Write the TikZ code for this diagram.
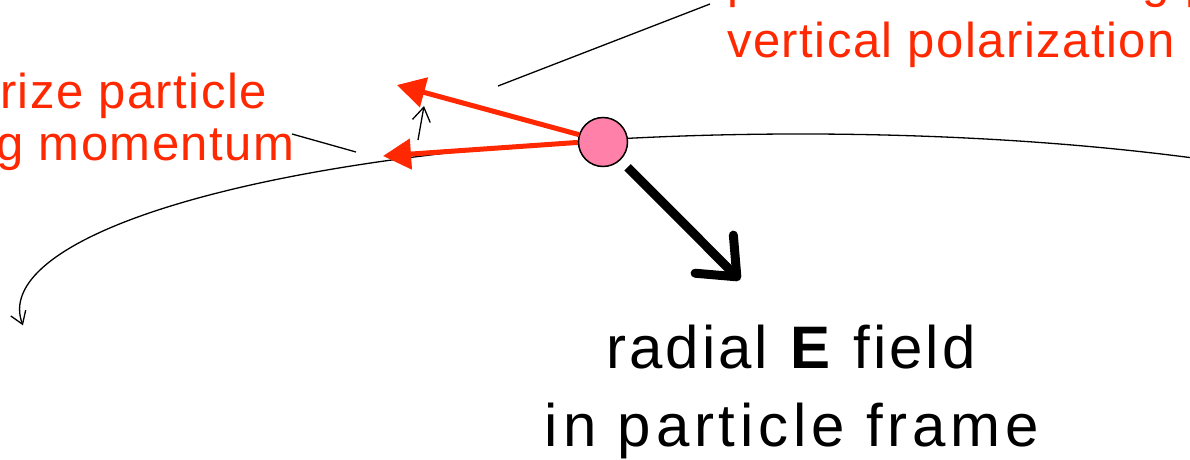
\documentclass[tikz,border=0pt]{standalone}
\usepackage{fontspec}
\setmainfont{Liberation Sans}
\newfontfamily\redfont[LetterSpace=3]{Liberation Sans}
\newfontfamily\blkfont[LetterSpace=5]{Liberation Sans}
\newfontfamily\blkwidefont[LetterSpace=8]{Liberation Sans}
\usetikzlibrary{arrows.meta}
\definecolor{redtxt}{RGB}{255,40,0}
\definecolor{pinkp}{RGB}{255,128,168}
\tikzset{
  redlabel/.style={inner sep=0pt, text=redtxt, anchor=base west, font=\redfont\fontsize{49}{52}\selectfont},
  blklabel/.style={inner sep=0pt, text=black, anchor=base, font=\blkfont\fontsize{60}{64}\selectfont},
  leader/.style={draw=black, line width=1.3pt},
  redarrow/.style={draw=redtxt, line width=5pt, -{Triangle[length=28pt,width=30pt]}},
  particle/.style={circle, draw=black, line width=1.5pt, fill=pinkp, minimum size=49pt, inner sep=0pt}
}
\begin{document}
\begin{tikzpicture}[x=1pt,y=1pt]
\useasboundingbox (0,0) rectangle (1190,459);
% orbit
\draw[line width=1.3pt, -{Straight Barb[length=12pt,width=16pt]}]
  (800,149) ++(55:780 and 176) arc[start angle=55, end angle=185, x radius=780, y radius=176];
% particle
\node[particle] (P) at (603,317) {};
% red arrows
\coordinate (tipA) at (397,374);
\coordinate (tipB) at (383,303);
\draw[redarrow] (P.163) -- (tipA);
\draw[redarrow] (P.181) -- (tipB);
% small vertical arrow
\coordinate (vA) at (418,319);
\coordinate (vB) at (424,353);
\draw[line width=1.3pt, -{Straight Barb[length=14pt,width=18pt]}] (vA) -- (vB);
% radial E arrow
\coordinate (Etip) at (740,179);
\draw[line width=9pt, shorten <=10pt, -{Straight Barb[length=32pt,width=54pt,round]}] (P.-46) -- (Etip);
% leader lines
\coordinate (l1a) at (498,373);
\coordinate (l1b) at (710,455);
\draw[leader] (l1a) -- (l1b);
\coordinate (l2a) at (292,325);
\coordinate (l2b) at (356,307);
\draw[leader] (l2a) -- (l2b);
% red texts
\node[redlabel] (r1) at (727,461) {precession causing p};
\node[redlabel] (r2) at (727,402) {vertical polarization};
\node[redlabel] (g1) at (-104,351) {Polarize particle};
\node[redlabel] (g2) at (-102,299) {along momentum};
% black texts
\node[blklabel] (b1) at (791,91) {radial \textbf{E} field};
\node[blklabel, font=\blkwidefont\fontsize{60}{64}\selectfont] (b2) at (792,13) {in particle frame};
\end{tikzpicture}
\end{document}
